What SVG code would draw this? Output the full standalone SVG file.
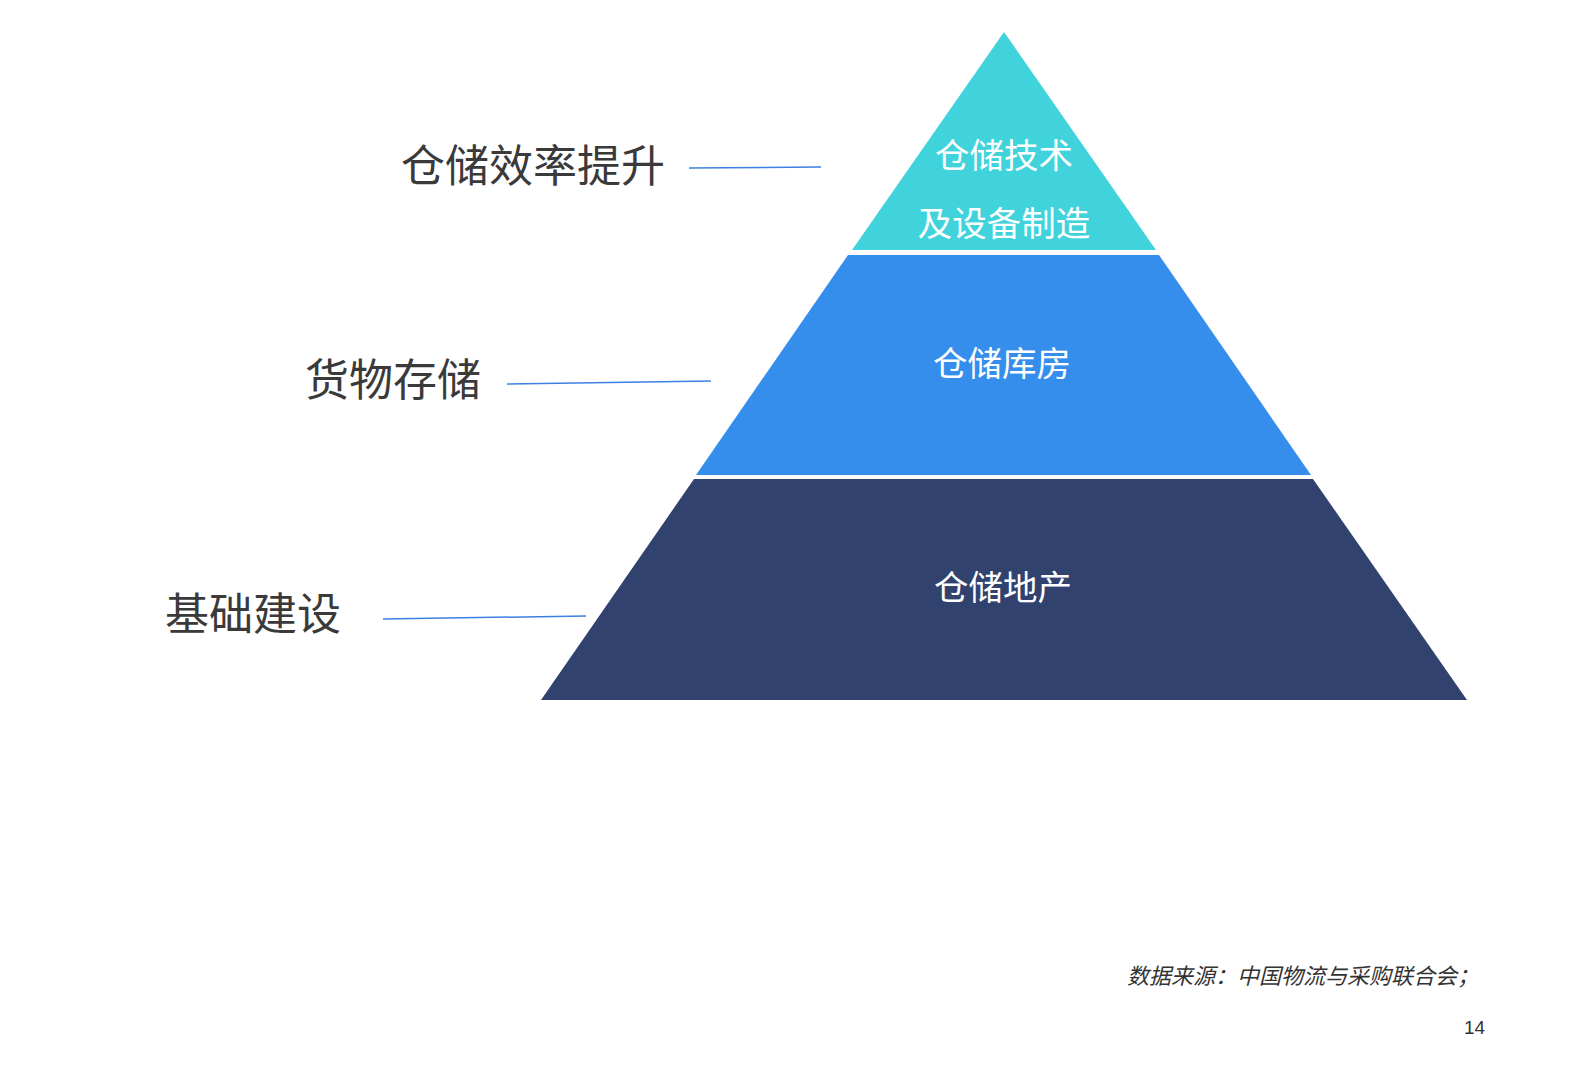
<svg xmlns="http://www.w3.org/2000/svg" width="1588" height="1092" viewBox="0 0 1588 1092">
<style>
.lbl{font-family:"Noto Sans CJK SC","Noto Sans",sans-serif;font-size:44px;fill:#3a3a3a}
.in{font-family:"Noto Sans CJK SC","Noto Sans",sans-serif;font-size:34.5px;fill:#ffffff;text-anchor:middle}
.conn{stroke:#3d80e2;stroke-width:1.5;fill:none}
.foot{font-family:"Noto Sans CJK SC","Noto Sans",sans-serif;font-size:22px;fill:#333333;font-style:italic}
</style>
<rect width="1588" height="1092" fill="#ffffff"/>
<g id="layer-top">
<polygon points="1004,32 1156,250 852,250" fill="#40d3db"/>
<text class="in" x="1004" y="168">仓储技术</text>
<text class="in" x="1004" y="236">及设备制造</text>
</g>
<g id="layer-middle">
<polygon points="848,255 1159,255 1311,475 696,475" fill="#368eec"/>
<text class="in" x="1002" y="376">仓储库房</text>
</g>
<g id="layer-bottom">
<polygon points="694,479 1313,479 1467,700 541,700" fill="#30426d"/>
<text class="in" x="1003" y="600">仓储地产</text>
</g>
<g id="label-1"><text class="lbl" x="401" y="182">仓储效率提升</text></g>
<g id="label-2"><text class="lbl" x="305" y="396">货物存储</text></g>
<g id="label-3"><text class="lbl" x="165" y="630">基础建设</text></g>
<g id="connectors">
<line class="conn" x1="689" y1="168" x2="821" y2="167"/>
<line class="conn" x1="507" y1="384" x2="711" y2="381"/>
<line class="conn" x1="383" y1="619" x2="586" y2="616"/>
</g>
<g id="footer">
<text class="foot" x="1127" y="984">数据来源：中国物流与采购联合会；</text>
<text x="1464" y="1034" font-family="Liberation Sans, sans-serif" font-size="19" fill="#333333">14</text>
</g>
</svg>
